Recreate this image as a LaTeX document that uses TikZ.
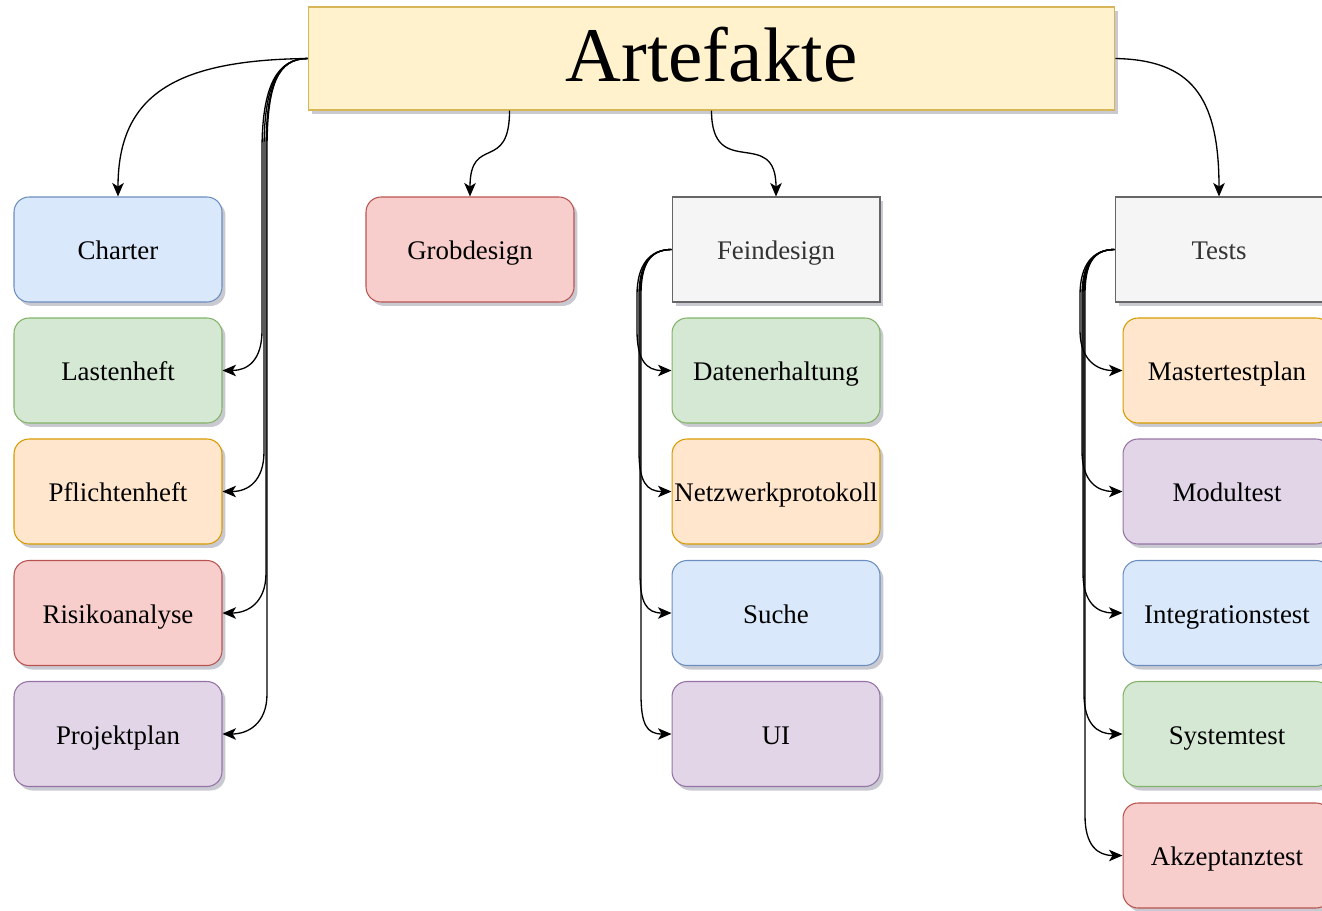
\documentclass[tikz,border=0pt]{standalone}
\usepackage{fontspec}
\setmainfont{Liberation Serif}
\usetikzlibrary{shadows, arrows.meta, calc}
\definecolor{yellowFill}{HTML}{FFF2CC}
\definecolor{yellowLine}{HTML}{D6B656}
\definecolor{blueFill}{HTML}{DAE8FC}
\definecolor{blueLine}{HTML}{6C8EBF}
\definecolor{greenFill}{HTML}{D5E8D4}
\definecolor{greenLine}{HTML}{82B366}
\definecolor{orangeFill}{HTML}{FFE6CC}
\definecolor{orangeLine}{HTML}{D79B00}
\definecolor{redFill}{HTML}{F8CECC}
\definecolor{redLine}{HTML}{B85450}
\definecolor{purpleFill}{HTML}{E1D5E7}
\definecolor{purpleLine}{HTML}{9673A6}
\definecolor{grayFill}{HTML}{F5F5F5}
\definecolor{grayLine}{HTML}{666666}
\definecolor{grayText}{HTML}{333333}

\begin{document}
\begin{tikzpicture}[x=0.02cm, y=-0.02cm,
every node/.style={align=center, font=\fontsize{15.3}{18}\selectfont},
box/.style={draw, line width=0.6pt, minimum width=4.16cm, minimum height=2.1cm,
  inner sep=0pt, text height=12pt, text depth=0.5pt,
  drop shadow={shadow xshift=0.07cm, shadow yshift=-0.08cm, fill=blue!15!black!70, opacity=0.3}},
rbox/.style={box, rounded corners=0.3cm},
bluebox/.style={rbox, fill=blueFill, draw=blueLine},
greenbox/.style={rbox, fill=greenFill, draw=greenLine},
orangebox/.style={rbox, fill=orangeFill, draw=orangeLine},
redbox/.style={rbox, fill=redFill, draw=redLine},
purplebox/.style={rbox, fill=purpleFill, draw=purpleLine},
graybox/.style={box, fill=grayFill, draw=grayLine, text=grayText},
conn/.style={line width=0.75pt, -{Stealth[length=0.27cm, width=0.23cm, inset=0.07cm]}}]
\useasboundingbox (0,0) rectangle (1322,910);
%================================================================
%	Boxes
\node[box, fill=yellowFill, draw=yellowLine, minimum width=16.14cm, minimum height=2.06cm,
  text height=30pt, text depth=4pt, font=\fontsize{44}{50}\selectfont] (art) at (711.5,58.5) {Artefakte};

\node[bluebox] (char) at (118,249.5) {Charter};
\node[greenbox] (last) at (118,370.5) {Lastenheft};
\node[orangebox] (pfl) at (118,491.5) {Pflichtenheft};
\node[redbox] (risk) at (118,613) {Risikoanalyse};
\node[purplebox] (proj) at (118,734) {Projektplan};

\node[redbox] (grob) at (470,249.5) {Grobdesign};

\node[graybox] (fein) at (776,249.5) {Feindesign};
\node[greenbox] (daten) at (776,370.5) {Datenerhaltung};
\node[orangebox] (netz) at (776,491.5) {Netzwerkprotokoll};
\node[bluebox] (suche) at (776,613) {Suche};
\node[purplebox] (ui) at (776,734) {UI};

\node[graybox] (tests) at (1219,249.5) {Tests};
\node[orangebox] (master) at (1227,370.5) {Mastertestplan};
\node[purplebox] (modul) at (1227,491.5) {Modultest};
\node[bluebox] (integ) at (1227,613) {Integrationstest};
\node[greenbox] (system) at (1227,734) {Systemtest};
\node[redbox] (akzept) at (1227,855.5) {Akzeptanztest};

%================================================================
%	Lines
\draw[conn] (art.west) .. controls (175,60) and (118,95) .. (char.north);
\draw[conn] ($(art.south west)!0.25!(art.south east)$) to[out=-90,in=90,looseness=1.7] (grob.north);
\draw[conn] (art.south) to[out=-90,in=90,looseness=1.7] (fein.north);
\draw[conn] (art.east) .. controls (1190,60) and (1219,95) .. (tests.north);

% left bundle
\foreach \t/\dx in {last/0, pfl/2, risk/4, proj/5} {
  \coordinate (lbus) at (262+\dx,150);
  \draw[conn] (art.west) .. controls +(-30,0) and +(0,-65) .. (lbus)
    -- ([yshift=0.8cm]lbus |- \t.east) .. controls +(0,30) and +(25,0) .. (\t.east);
}

% Feindesign bundle
\foreach \t/\dx in {daten/0, netz/2, suche/3, ui/4} {
  \coordinate (fbus) at (637+\dx,295);
  \draw[conn] (fein.west) .. controls +(-22,0) and +(0,-30) .. (fbus)
    -- ([yshift=0.8cm]fbus |- \t.west) .. controls +(0,30) and +(-25,0) .. (\t.west);
}

% Tests bundle
\foreach \t/\dx in {master/0, modul/2, integ/3, system/4, akzept/5} {
  \coordinate (tbus) at (1080+\dx,295);
  \draw[conn] (tests.west) .. controls +(-22,0) and +(0,-30) .. (tbus)
    -- ([yshift=0.8cm]tbus |- \t.west) .. controls +(0,30) and +(-25,0) .. (\t.west);
}
%================================================================
\end{tikzpicture}
\end{document}
